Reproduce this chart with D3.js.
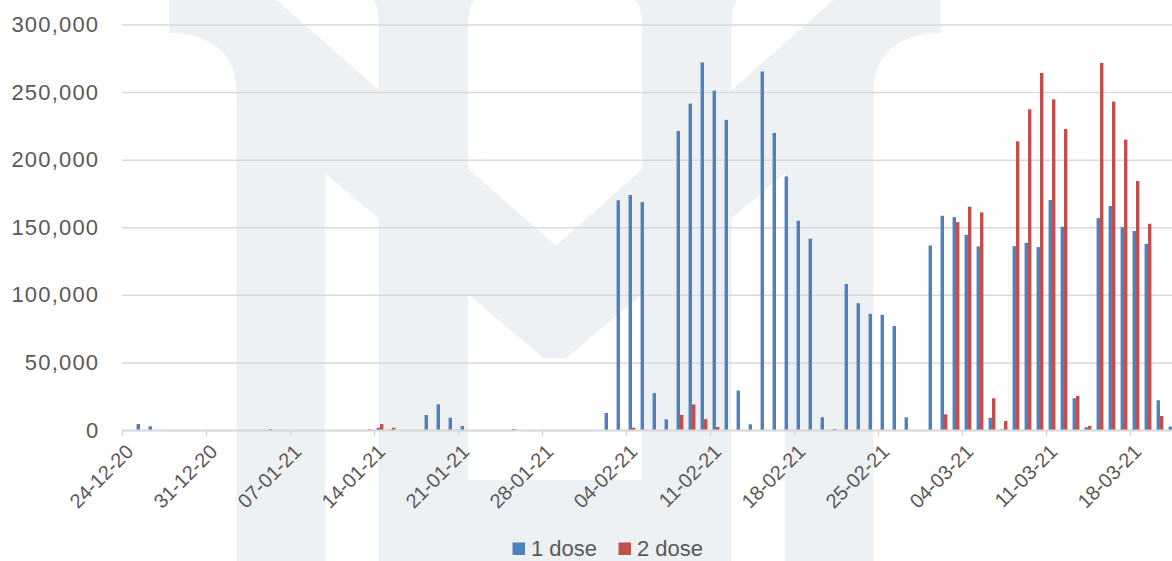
<!DOCTYPE html>
<html><head><meta charset="utf-8">
<script src="https://cdn.jsdelivr.net/npm/d3@7"></script>
<style>
html,body{margin:0;padding:0;background:#fff;}
svg{display:block;}
text{font-family:"Liberation Sans",Arial,sans-serif;fill:#595959;}
</style></head>
<body><svg id="c" width="1172" height="561"></svg>
<script>
const dates = [
"24-12-20","25-12-20","26-12-20","27-12-20","28-12-20","29-12-20","30-12-20",
"31-12-20","01-01-21","02-01-21","03-01-21","04-01-21","05-01-21","06-01-21",
"07-01-21","08-01-21","09-01-21","10-01-21","11-01-21","12-01-21","13-01-21",
"14-01-21","15-01-21","16-01-21","17-01-21","18-01-21","19-01-21","20-01-21",
"21-01-21","22-01-21","23-01-21","24-01-21","25-01-21","26-01-21","27-01-21",
"28-01-21","29-01-21","30-01-21","31-01-21","01-02-21","02-02-21","03-02-21",
"04-02-21","05-02-21","06-02-21","07-02-21","08-02-21","09-02-21","10-02-21",
"11-02-21","12-02-21","13-02-21","14-02-21","15-02-21","16-02-21","17-02-21",
"18-02-21","19-02-21","20-02-21","21-02-21","22-02-21","23-02-21","24-02-21",
"25-02-21","26-02-21","27-02-21","28-02-21","01-03-21","02-03-21","03-03-21",
"04-03-21","05-03-21","06-03-21","07-03-21","08-03-21","09-03-21","10-03-21",
"11-03-21","12-03-21","13-03-21","14-03-21","15-03-21","16-03-21","17-03-21",
"18-03-21","19-03-21","20-03-21","21-03-21"];
const dose1 = [
0,4400,2700,0,0,0,0,
0,0,0,0,0,700,0,
0,0,0,0,0,0,0,
1700,400,0,0,11100,19000,9100,
3000,0,0,0,0,0,0,
0,0,0,0,0,12600,169900,
173800,168600,27300,7900,221200,241500,271900,
251100,229400,29200,4200,265200,219800,187600,
154800,141500,9400,800,108000,93800,85900,
85200,77000,9400,0,136500,158500,157500,
144400,135800,9100,500,136000,138500,135300,
170100,150400,23500,2000,156800,165700,150100,
147200,137800,22000,2500];
const dose2 = [
0,0,0,0,0,0,0,
0,0,0,0,0,0,0,
0,0,0,0,0,0,500,
4400,1700,0,0,0,0,0,
0,0,0,0,700,0,0,
0,0,0,0,0,0,0,
1700,0,0,0,11200,18900,8000,
2200,0,0,0,0,0,0,
0,0,0,0,0,0,0,
0,0,0,0,0,11600,153800,
165200,161000,23500,6700,213600,237300,264200,
244700,222700,25200,3000,271600,243000,214800,
184200,152600,10400,0];
const seriesNames = ["1 dose","2 dose"];
const seriesColors = ["#4F81BD","#C0504D"];
const yTicks = [0,50000,100000,150000,200000,250000,300000];
const xTickLabels = ["24-12-20","31-12-20","07-01-21","14-01-21","21-01-21","28-01-21","04-02-21","11-02-21","18-02-21","25-02-21","04-03-21","11-03-21","18-03-21"];

const svg = d3.select("#c");
const W = 1172, H = 561;
const parse = d3.utcParse("%d-%m-%y");
const fmt = d3.utcFormat("%d-%m-%y");
const left = 122, slot = 12;
const x = d3.scaleUtc()
  .domain([parse(dates[0]), d3.utcDay.offset(parse(dates[dates.length-1]), 1)])
  .range([left, left + slot*dates.length]);
const xSub = d3.scaleBand().domain(seriesNames).range([0, slot]).paddingInner(0).paddingOuter(0.75);
const y = d3.scaleLinear().domain([0,300000]).range([430,24.5]);

// watermark
const wm = svg.append("g").attr("fill","#eef1f3");
const ax = 555;
function mir(v){return 2*ax - v;}
wm.append("path").attr("d","M169.3,0 H276.5 V90 H236.5 C236.5,58 214,33 169.3,33 Z");
wm.append("rect").attr("x",236.5).attr("y",60).attr("width",88.6).attr("height",520);
wm.append("path").attr("d",`M${mir(169.3)},0 H${mir(276.5)} V90 H${mir(236.5)} C${mir(236.5)},58 ${mir(214)},33 ${mir(169.3)},33 Z`);
wm.append("rect").attr("x",mir(325.1)).attr("y",60).attr("width",88.6).attr("height",520);
wm.append("path").attr("d",`M236.5,0 L276.5,0 L555.7,245.7 L${mir(276.5)},0 L${mir(236.5)},0 L${mir(236.5)},98.1 L566.1,358.3 L543.7,358.3 L236.5,98.1 Z`);
wm.append("path").attr("d","M373,0 Q378.5,6 378.5,24 V561 H468 V24 Q468,6 475,0 Z");
wm.append("path").attr("d",`M${mir(475)},0 Q${mir(468)},6 ${mir(468)},24 V561 H${mir(378.5)} V24 Q${mir(378.5)},6 ${mir(373)},0 Z`);
wm.append("rect").attr("x",468).attr("y",480).attr("width",mir(468)-468).attr("height",90);

// gridlines + y labels
const yAxis = d3.axisLeft(y).tickValues(yTicks).tickFormat(d3.format(",")).tickSize(-(W-left)).tickPadding(22.7);
const gy = svg.append("g").attr("transform",`translate(${left},0)`).call(yAxis);
gy.select(".domain").remove();
gy.selectAll(".tick line").attr("stroke","#d9d9d9").attr("stroke-width",1.5);
gy.selectAll(".tick text").attr("font-size",22).attr("letter-spacing","1.2px").attr("fill","#595959")
  .style("font-family",'"Liberation Sans",Arial,sans-serif');

// bars
const data = dates.map((d,i)=>({date:parse(d), v:[dose1[i], dose2[i]]}));
seriesNames.forEach((s,si)=>{
  svg.append("g").selectAll("rect").data(data).join("rect")
    .attr("x", d => x(d.date) + xSub(s))
    .attr("width", xSub.bandwidth())
    .attr("y", d => y(d.v[si]))
    .attr("height", d => Math.max(0, y(0) - y(d.v[si])))
    .attr("fill", seriesColors[si]);
});

// x axis
const xAxis = d3.axisBottom(x).tickValues(xTickLabels.map(parse)).tickFormat(fmt).tickSize(6).tickSizeOuter(0);
const gx = svg.append("g").attr("transform","translate(0,430)").call(xAxis);
gx.select(".domain").attr("stroke","#d9d9d9").attr("stroke-width",2).attr("d",`M${left},0.5H${W}`);
gx.selectAll(".tick line").attr("stroke","#d9d9d9").attr("stroke-width",1.5);
gx.selectAll(".tick text").attr("font-size",20).attr("fill","#595959")
  .style("font-family",'"Liberation Sans",Arial,sans-serif')
  .attr("text-anchor","end").attr("dy",null).attr("y",null)
  .attr("transform","translate(12,23) rotate(-45)");

// legend
const lg = svg.append("g");
const legX = [512.5, 618.5];
seriesNames.forEach((s,i)=>{
  lg.append("rect").attr("x",legX[i]).attr("y",542.5).attr("width",12.5).attr("height",12.5).attr("fill",seriesColors[i]);
  lg.append("text").attr("x",legX[i]+18.5).attr("y",556).attr("font-size",22).text(s);
});
</script></body></html>
